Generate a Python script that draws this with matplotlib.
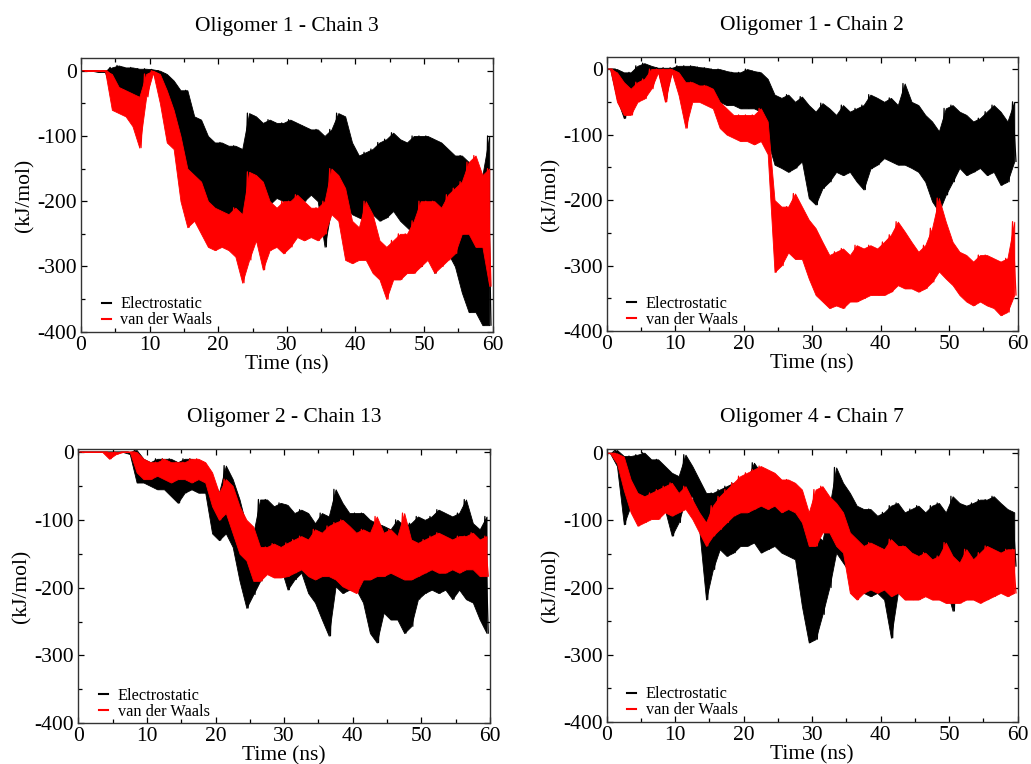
import numpy as np
import matplotlib.pyplot as plt
from matplotlib.ticker import MultipleLocator

plt.rcParams["font.family"] = ["Liberation Serif", "DejaVu Serif"]
plt.rcParams["axes.unicode_minus"] = False

COR_ELEC = "black"
COR_VDW = "#ff0000"

TITULOS = ["Oligomer 1 - Chain 3", "Oligomer 1 - Chain 2",
           "Oligomer 2 - Chain 13", "Oligomer 4 - Chain 7"]
SERIES = ["Electrostatic", "van der Waals"]

# energia por janela de 1 ns (0..59 ns): maximo e minimo de cada traco, kJ/mol

# Oligomer 1 - Chain 3
A_ELEC_HI = [0, 0, 0, 0, 5, 8, 5, 5, 3, 3, 2, 0, -5, -15, -30, -30, -70, -75, -100, -110,
             -110, -115, -115, -120, -65, -70, -80, -75, -80, -80, -75, -80, -85, -90, -90, -100, -90, -65, -70, -110,
             -130, -125, -120, -110, -105, -95, -105, -110, -100, -100, -100, -105, -110, -120, -130, -130, -140, -150, -160, -100]
A_ELEC_LO = [0, 0, -2, -2, -35, -45, -40, -55, -50, -10, -3, -30, -100, -95, -150, -170, -190, -200, -210, -220,
             -220, -225, -230, -240, -220, -210, -200, -205, -195, -200, -200, -195, -200, -190, -200, -270, -210, -200, -210, -220,
             -225, -230, -220, -230, -225, -215, -230, -240, -250, -300, -260, -310, -260, -280, -300, -340, -370, -370, -390, -390]
A_VDW_HI = [0, 0, 0, 0, -5, -25, -30, -35, -40, -5, 0, -5, -30, -60, -100, -150, -160, -170, -200, -210,
            -215, -220, -210, -220, -155, -160, -170, -200, -210, -200, -200, -190, -200, -210, -210, -200, -150, -160, -180, -230,
            -240, -200, -220, -260, -270, -260, -250, -250, -230, -200, -200, -200, -210, -190, -180, -170, -140, -130, -160, -150]
A_VDW_LO = [0, 0, 0, 0, -60, -65, -70, -85, -118, -40, -3, -50, -110, -120, -200, -240, -230, -250, -270, -275,
            -270, -275, -285, -325, -290, -260, -305, -275, -270, -280, -270, -255, -260, -255, -260, -250, -220, -230, -290, -295,
            -290, -290, -310, -320, -350, -320, -320, -310, -310, -300, -290, -310, -300, -290, -280, -250, -250, -270, -270, -330]

# Oligomer 1 - Chain 2
B_ELEC_HI = [0, 0, -5, -5, 5, 9, 5, 2, 2, 2, 5, 5, 5, 3, 2, 0, 0, -3, -5, -5,
             0, -3, -5, -15, -39, -44, -39, -50, -42, -55, -65, -52, -60, -70, -55, -65, -60, -55, -39, -44,
             -50, -44, -55, -22, -50, -55, -70, -80, -95, -60, -55, -65, -70, -80, -75, -65, -55, -65, -80, -50]
B_ELEC_LO = [0, -45, -75, -55, -35, -25, -15, -3, -45, -3, -30, -40, -45, -45, -50, -55, -50, -55, -55, -60,
             -60, -60, -65, -110, -146, -151, -157, -151, -141, -197, -207, -182, -172, -157, -162, -157, -172, -184, -152, -146,
             -136, -141, -146, -146, -151, -157, -172, -202, -218, -192, -172, -151, -162, -157, -151, -162, -157, -177, -172, -141]
B_VDW_HI = [0, -5, -20, -30, -20, -15, 0, 0, 0, 0, -5, -20, -20, -25, -25, -30, -50, -60, -70, -70,
            -70, -70, -60, -80, -200, -210, -210, -190, -210, -230, -243, -264, -284, -279, -274, -284, -269, -274, -269, -274,
            -264, -253, -233, -248, -264, -279, -269, -243, -197, -233, -264, -279, -284, -294, -284, -284, -289, -294, -289, -233]
B_VDW_LO = [0, -50, -70, -70, -50, -45, -30, -5, -50, -5, -40, -90, -50, -50, -55, -60, -90, -100, -105, -110,
            -110, -115, -110, -130, -310, -300, -280, -290, -290, -320, -345, -355, -365, -361, -365, -355, -355, -350, -345, -345,
            -345, -340, -330, -335, -335, -340, -335, -325, -309, -320, -330, -345, -355, -361, -355, -361, -365, -376, -371, -345]

# Oligomer 2 - Chain 13
C_ELEC_HI = [0, 0, 0, 0, 0, 0, 0, 0, 3, -10, -15, -10, -10, -10, -15, -10, -10, -15, -20, -40,
             -60, -20, -40, -70, -110, -120, -70, -70, -80, -75, -78, -90, -85, -90, -105, -90, -95, -55, -75, -90,
             -90, -90, -100, -105, -109, -114, -100, -109, -105, -95, -100, -95, -85, -90, -95, -90, -70, -105, -114, -95]
C_ELEC_LO = [0, 0, 0, 0, 0, 0, 0, -3, -45, -45, -50, -55, -55, -65, -75, -60, -55, -60, -60, -120,
             -130, -120, -140, -190, -230, -210, -190, -160, -170, -170, -203, -188, -178, -208, -222, -247, -271, -198, -208, -203,
             -203, -222, -267, -281, -237, -247, -247, -267, -257, -217, -208, -203, -208, -203, -217, -203, -217, -222, -247, -267]
C_VDW_HI = [0, 0, 0, 0, 0, 0, 0, 0, 0, -10, -15, -15, -10, -15, -15, -15, -10, -10, -15, -30,
            -60, -40, -50, -80, -100, -110, -140, -140, -135, -140, -134, -129, -124, -129, -114, -119, -109, -104, -100, -109,
            -119, -114, -119, -95, -119, -114, -124, -90, -129, -134, -129, -124, -119, -124, -129, -124, -124, -119, -129, -124]
C_VDW_LO = [0, 0, 0, 0, -10, -3, 0, 0, -30, -40, -40, -35, -40, -45, -40, -40, -45, -40, -45, -80,
            -100, -90, -120, -150, -160, -190, -190, -180, -185, -185, -183, -178, -173, -183, -188, -183, -183, -188, -198, -203,
            -208, -188, -188, -183, -183, -178, -183, -188, -188, -183, -178, -173, -178, -178, -173, -178, -173, -173, -183, -183]

# Oligomer 4 - Chain 7
D_ELEC_HI = [0, 5, -4, -4, -2, 1, -9, -9, -19, -29, -34, -2, -19, -39, -59, -59, -54, -49, -44, -44,
             -39, -14, -29, -39, -49, -54, -49, -54, -69, -128, -120, -130, -80, -21, -44, -59, -78, -83, -83, -93,
             -88, -78, -74, -88, -83, -78, -88, -78, -74, -88, -64, -74, -78, -74, -69, -69, -64, -74, -83, -88]
D_ELEC_LO = [0, -19, -106, -78, -78, -74, -64, -74, -84, -123, -103, -69, -64, -113, -218, -173, -143, -153, -148, -138,
             -138, -133, -148, -143, -138, -148, -153, -158, -228, -282, -277, -240, -200, -148, -163, -178, -198, -208, -213, -208,
             -218, -275, -208, -198, -198, -198, -188, -193, -193, -198, -235, -183, -188, -188, -183, -178, -183, -173, -178, -168]
D_VDW_HI = [0, 0, -5, -39, -59, -64, -59, -54, -49, -44, -59, -49, -69, -88, -103, -78, -64, -54, -44, -34,
            -29, -24, -19, -24, -29, -39, -39, -44, -54, -88, -54, -49, -64, -74, -88, -118, -128, -138, -133, -138,
            -143, -128, -138, -138, -148, -153, -148, -158, -153, -133, -153, -163, -143, -158, -148, -138, -143, -148, -143, -143]
D_VDW_LO = [0, -15, -55, -88, -108, -103, -98, -98, -88, -93, -88, -83, -98, -118, -138, -123, -113, -103, -93, -88,
            -88, -83, -78, -83, -78, -88, -83, -88, -103, -138, -138, -118, -118, -138, -148, -208, -218, -208, -203, -208,
            -203, -213, -208, -218, -218, -218, -213, -218, -218, -223, -223, -223, -218, -218, -223, -218, -213, -208, -213, -208]


def tracar(ax, hi, lo, cor, nome, z):
    # faixa cheia entre maximo e minimo de cada janela de 1 ns,
    # com um zigue-zague fino por cima para as pontas
    t = np.arange(len(hi))
    ax.fill_between(t + 0.5, lo, hi, color=cor, linewidth=0.6, edgecolor=cor, zorder=z)
    x = np.column_stack([t + 0.25, t + 0.75]).ravel()
    y = np.column_stack([hi, lo]).ravel()
    ax.plot(x, y, color=cor, linewidth=0.9, label=nome, zorder=z + 0.1)


def painel(ax, titulo, elec, vdw, ytop):
    tracar(ax, elec[0], elec[1], COR_ELEC, SERIES[0], 1)
    tracar(ax, vdw[0], vdw[1], COR_VDW, SERIES[1], 2)

    ax.set_xlim(0, 60)
    ax.set_ylim(-400, ytop)
    ax.xaxis.set_major_locator(MultipleLocator(10))
    ax.xaxis.set_minor_locator(MultipleLocator(5))
    ax.yaxis.set_major_locator(MultipleLocator(100))
    ax.yaxis.set_minor_locator(MultipleLocator(50))
    ax.tick_params(which="both", direction="in", top=True, right=True, labelsize=15.5, width=0.9)
    ax.tick_params(which="major", length=4.5, pad=3)
    ax.tick_params(which="minor", length=3)
    for sp in ax.spines.values():
        sp.set_linewidth(1.0)
        sp.set_color("#333")
        sp.set_zorder(5)

    ax.set_title(titulo, fontsize=15.5, pad=20)
    ax.set_xlabel("Time (ns)", fontsize=15.5, labelpad=0)
    ax.set_ylabel("(kJ/mol)", fontsize=15.5, labelpad=2)

    leg = ax.legend(loc="lower left", bbox_to_anchor=(0.05, 0.012), frameon=False,
                    fontsize=11.7, handlelength=0.55, handletextpad=0.6,
                    labelspacing=0.0, borderpad=0, borderaxespad=0)
    for h in leg.get_lines():
        h.set_linewidth(1.5)


fig = plt.figure(figsize=(10.31, 7.64), dpi=100)
W, H = 1031, 764
caixas = [(81, 492.7, 58.3, 331.7), (606.7, 1017.7, 57.3, 331),
          (78.3, 490, 449.3, 723.3), (606.7, 1017.7, 449.3, 721.7)]
dados = [((A_ELEC_HI, A_ELEC_LO), (A_VDW_HI, A_VDW_LO), 19),
         ((B_ELEC_HI, B_ELEC_LO), (B_VDW_HI, B_VDW_LO), 18),
         ((C_ELEC_HI, C_ELEC_LO), (C_VDW_HI, C_VDW_LO), 4),
         ((D_ELEC_HI, D_ELEC_LO), (D_VDW_HI, D_VDW_LO), 6)]

for (x0, x1, y0, y1), titulo, (elec, vdw, ytop) in zip(caixas, TITULOS, dados):
    ax = fig.add_axes([x0 / W, 1 - y1 / H, (x1 - x0) / W, (y1 - y0) / H])
    painel(ax, titulo, elec, vdw, ytop)

fig.savefig("out.png", dpi=100)
